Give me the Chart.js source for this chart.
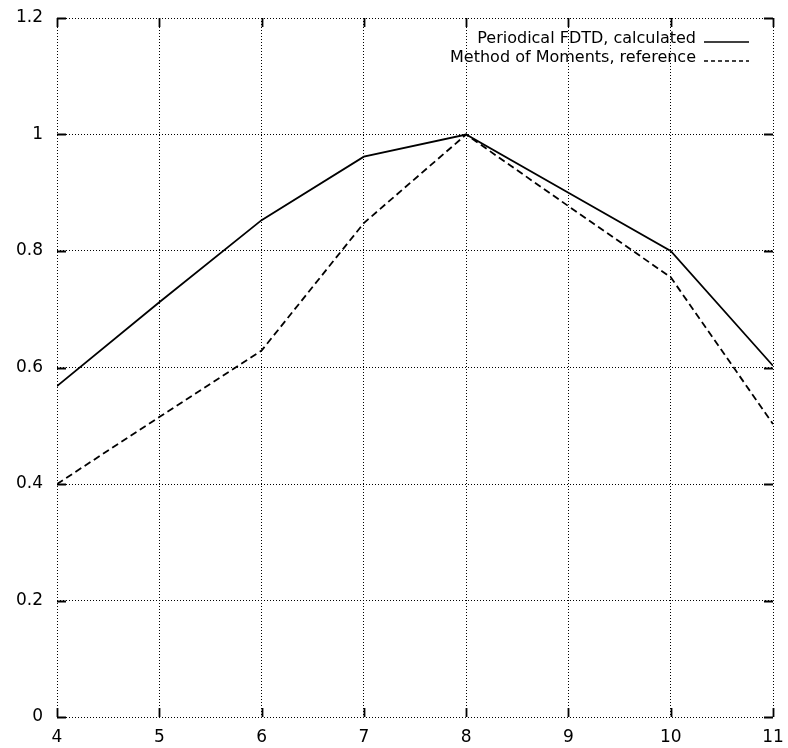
<!DOCTYPE html>
<html>
<head>
<meta charset="utf-8">
<script src="https://cdn.jsdelivr.net/npm/chart.js@4/dist/chart.umd.min.js"></script>
<style>
html,body{margin:0;padding:0;background:#fff;}
#wrap{width:788px;height:748px;position:relative;}
</style>
</head>
<body>
<div id="wrap"><canvas id="c" width="788" height="748"></canvas></div>
<script>
const xValues = [4, 5, 6, 7, 8, 9, 10, 11];
const fdtdValues = [0.568, 0.712, 0.853, 0.962, 1.0, 0.90, 0.80, 0.603];
const momValues = [0.40, 0.515, 0.629, 0.848, 1.0, 0.877, 0.755, 0.503];
const seriesLabels = ['Periodical FDTD, calculated', 'Method of Moments, reference'];
const xTicks = [4, 5, 6, 7, 8, 9, 10, 11];
const yTicks = [0, 0.2, 0.4, 0.6, 0.8, 1, 1.2];

const FONT = '"DejaVu Sans", "Liberation Sans", Arial, sans-serif';

const toPts = (ys) => xValues.map((x, i) => ({x: x, y: ys[i]}));

const tickPlugin = {
  id: 'innerTicks',
  afterDraw(chart) {
    const ctx = chart.ctx;
    const a = chart.chartArea;
    const xs = chart.scales.x, ys = chart.scales.y;
    const L = 9;
    ctx.save();
    ctx.strokeStyle = '#000';
    ctx.lineWidth = 1.8;
    ctx.setLineDash([]);
    ctx.beginPath();
    xTicks.forEach(v => {
      const px = Math.round(xs.getPixelForValue(v)) + 0.5;
      ctx.moveTo(px, a.bottom); ctx.lineTo(px, a.bottom - L);
      ctx.moveTo(px, a.top); ctx.lineTo(px, a.top + L);
    });
    yTicks.forEach(v => {
      const py = Math.round(ys.getPixelForValue(v)) + 0.5;
      ctx.moveTo(a.left, py); ctx.lineTo(a.left + L, py);
      ctx.moveTo(a.right, py); ctx.lineTo(a.right - L, py);
    });
    ctx.stroke();

    // legend
    ctx.font = '16px ' + FONT;
    ctx.fillStyle = '#000';
    ctx.textAlign = 'right';
    ctx.textBaseline = 'middle';
    const rows = [{y: 39, dash: []}, {y: 58, dash: [4, 3]}];
    rows.forEach((r, i) => {
      ctx.fillText(seriesLabels[i], 696, r.y);
      ctx.beginPath();
      ctx.setLineDash(r.dash);
      ctx.lineWidth = 1.4;
      ctx.moveTo(704, r.y + 3);
      ctx.lineTo(749, r.y + 3);
      ctx.stroke();
    });
    ctx.restore();
  }
};

new Chart(document.getElementById('c'), {
  type: 'line',
  data: {
    datasets: [
      {label: seriesLabels[0], data: toPts(fdtdValues), borderColor: '#000', borderWidth: 1.8, pointRadius: 0, fill: false, tension: 0},
      {label: seriesLabels[1], data: toPts(momValues), borderColor: '#000', borderWidth: 1.8, borderDash: [7, 4], pointRadius: 0, fill: false, tension: 0}
    ]
  },
  options: {
    responsive: false,
    animation: false,
    layout: {padding: {top: 18, right: 15, left: 0, bottom: 0}},
    plugins: {legend: {display: false}, tooltip: {enabled: false}},
    scales: {
      x: {
        type: 'linear', min: 4, max: 11,
        afterBuildTicks: (s) => { s.ticks = xTicks.map(v => ({value: v})); },
        afterFit: (s) => { s.height = 31; s.paddingLeft = 0; s.paddingRight = 0; },
        border: {display: false, dash: [1, 2]},
        grid: {color: '#000', lineWidth: 1, drawTicks: false},
        ticks: {color: '#000', font: {family: FONT, size: 17}, padding: 10, maxRotation: 0,
          callback: (v) => String(v)}
      },
      y: {
        type: 'linear', min: 0, max: 1.2,
        afterBuildTicks: (s) => { s.ticks = yTicks.map(v => ({value: v})); },
        afterFit: (s) => { s.width = 57; s.paddingTop = 0; s.paddingBottom = 0; },
        border: {display: false, dash: [1, 2]},
        grid: {color: '#000', lineWidth: 1, drawTicks: false},
        ticks: {color: '#000', font: {family: FONT, size: 17}, padding: 14,
          callback: (v) => String(Math.round(v * 10) / 10)}
      }
    }
  },
  plugins: [tickPlugin]
});
</script>
</body>
</html>
